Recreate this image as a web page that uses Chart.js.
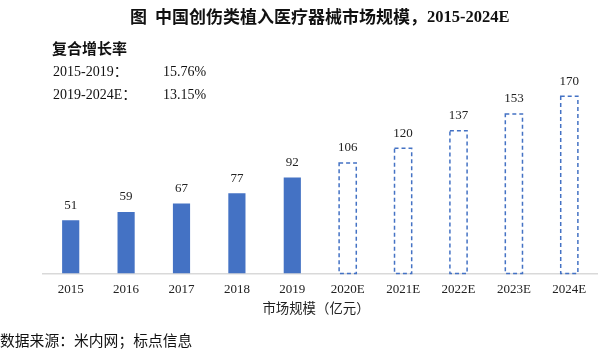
<!DOCTYPE html>
<html>
<head>
<meta charset="utf-8">
<script src="https://cdn.jsdelivr.net/npm/chart.js@4.4.1/dist/chart.umd.min.js"></script>
<style>
  html, body { margin: 0; padding: 0; background: #fff; }
  #wrap { width: 600px; height: 352px; position: relative; }
</style>
</head>
<body>
<div id="wrap"><canvas id="myChart" width="600" height="352"></canvas></div>
<script>
// categories and values
const years = ['2015', '2016', '2017', '2018', '2019', '2020E', '2021E', '2022E', '2023E', '2024E'];
const actualValues = [51, 59, 67, 77, 92, null, null, null, null, null];
const forecastValues = [null, null, null, null, null, 106, 120, 137, 153, 170];
const cagrLabels = ['2015-2019：', '2019-2024E：'];
const cagrValues = ['15.76%', '13.15%'];

const blue = '#4472C4';
const serif = '"Liberation Serif", "Noto Sans CJK SC", serif';
const cjk = '"Noto Sans CJK SC", "Liberation Serif", sans-serif';

// dashed outline for forecast bars + value labels + extra text
const extrasPlugin = {
  id: 'extras',
  afterDatasetsDraw(chart) {
    const ctx = chart.ctx;
    ctx.save();
    // dashed forecast bars
    chart.getDatasetMeta(1).data.forEach((bar, i) => {
      if (forecastValues[i] == null) return;
      const w = bar.width;
      ctx.setLineDash([4, 3]);
      ctx.lineWidth = 1.5;
      ctx.strokeStyle = blue;
      ctx.strokeRect(bar.x - w / 2, bar.y, w, bar.base - bar.y);
    });
    ctx.setLineDash([]);
    // value labels
    ctx.fillStyle = '#222';
    ctx.font = '13px ' + serif;
    ctx.textAlign = 'center';
    ctx.textBaseline = 'middle';
    [0, 1].forEach(d => {
      const vals = d === 0 ? actualValues : forecastValues;
      chart.getDatasetMeta(d).data.forEach((bar, i) => {
        if (vals[i] == null) return;
        ctx.fillText(String(vals[i]), bar.x, bar.y - 15);
      });
    });
    ctx.restore();
  },
  afterDraw(chart) {
    const ctx = chart.ctx;
    ctx.save();
    ctx.fillStyle = '#111';
    ctx.textBaseline = 'middle';
    ctx.textAlign = 'left';
    // title, drawn in pieces
    ctx.font = 'bold 17px ' + cjk;
    ctx.fillText('图', 130, 17);
    let x = 155;
    const t1 = '中国创伤类植入医疗器械市场规模，';
    ctx.fillText(t1, x, 17);
    x += ctx.measureText(t1).width;
    ctx.font = 'bold 16.5px ' + serif;
    ctx.fillText('2015-2024E', x, 18);
    // CAGR box
    ctx.font = 'bold 15px ' + cjk;
    ctx.fillText('复合增长率', 52, 48);
    ctx.font = '14px ' + serif;
    cagrLabels.forEach((t, i) => {
      ctx.fillText(t, 53, 72 + i * 23);
      ctx.fillText(cagrValues[i], 163, 72 + i * 23);
    });
    // axis title
    ctx.textAlign = 'center';
    ctx.fillStyle = '#222';
    ctx.font = '13.4px ' + cjk;
    ctx.fillText('市场规模（亿元）', 316, 308);
    // source
    ctx.textAlign = 'left';
    ctx.fillStyle = '#111';
    ctx.font = '14.8px ' + cjk;
    ctx.fillText('数据来源：米内网；标点信息', 0, 340);
    ctx.restore();
  }
};

new Chart(document.getElementById('myChart').getContext('2d'), {
  type: 'bar',
  data: {
    labels: years,
    datasets: [
      {
        label: '实际',
        data: actualValues,
        backgroundColor: blue,
        borderWidth: 0,
        barPercentage: 0.31,
        categoryPercentage: 1
      },
      {
        label: '预测',
        data: forecastValues,
        backgroundColor: 'rgba(0,0,0,0)',
        borderWidth: 0,
        barPercentage: 0.31,
        categoryPercentage: 1
      }
    ]
  },
  options: {
    responsive: false,
    animation: false,
    devicePixelRatio: 1,
    layout: { padding: { top: 65, left: 43, right: 3, bottom: 55 } },
    plugins: { legend: { display: false }, tooltip: { enabled: false } },
    scales: {
      x: {
        stacked: true,
        grid: { display: false },
        border: { color: '#d9d9d9', width: 1.5 },
        ticks: { color: '#222', font: { family: serif, size: 13 }, padding: 0 }
      },
      y: {
        stacked: false,
        display: false,
        min: 0,
        max: 200
      }
    }
  },
  plugins: [extrasPlugin]
});
</script>
</body>
</html>
